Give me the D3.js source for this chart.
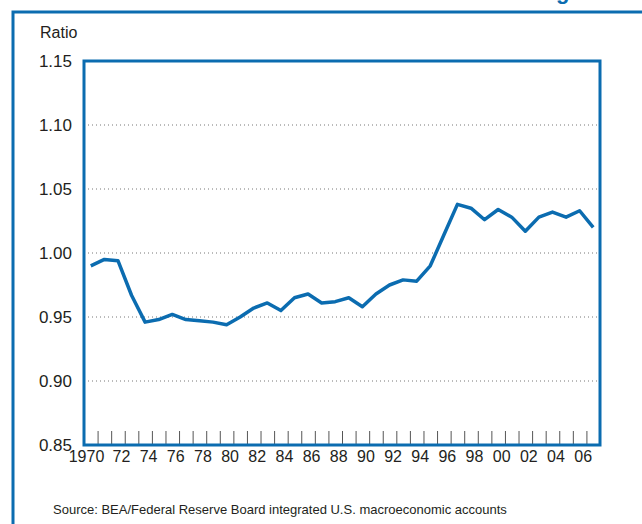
<!DOCTYPE html>
<html>
<head>
<meta charset="utf-8">
<script src="https://cdn.jsdelivr.net/npm/d3@7"></script>
<style>
  body { margin: 0; background: #fff; }
  text { font-family: "Liberation Sans", Arial, sans-serif; fill: #231f20; }
</style>
</head>
<body>
<script>
// chart data
const years = d3.range(1970, 2008);
const ratio = [0.990, 0.995, 0.994, 0.967, 0.946, 0.948, 0.952, 0.948, 0.947, 0.946,
  0.944, 0.950, 0.957, 0.961, 0.955, 0.965, 0.968, 0.961, 0.962, 0.965,
  0.958, 0.968, 0.975, 0.979, 0.978, 0.990, 1.014, 1.038, 1.035, 1.026,
  1.034, 1.028, 1.017, 1.028, 1.032, 1.028, 1.033, 1.020];
const yTicks = [0.85, 0.90, 0.95, 1.00, 1.05, 1.10, 1.15];
const xLabelYears = d3.range(1970, 2008, 2);

const w = 642;
const h = 524;
const blue = "#0b6cb0";

const svg = d3.select("body")
  .append("svg")
  .attr("width", w)
  .attr("height", h);

// outer panel frame, runs off the right and bottom edge
svg.append("rect")
  .attr("x", 13)
  .attr("y", 12)
  .attr("width", 700)
  .attr("height", 600)
  .attr("fill", "none")
  .attr("stroke", blue)
  .attr("stroke-width", 3);

// bit of the title that is cut off at the top (as in the original)
svg.append("text")
  .attr("x", 556)
  .attr("y", -1)
  .style("font-size", "22px")
  .style("font-weight", "bold")
  .style("fill", blue)
  .text("g");

const pLeft = 84, pRight = 600, pTop = 61, pBottom = 445;

const x = d3.scaleLinear()
  .domain([1970, 2008]) // each year is one slot, point in the middle
  .range([pLeft, pRight]);
const y = d3.scaleLinear()
  .domain([0.85, 1.15])
  .range([pBottom, pTop]);

// dotted grid
svg.selectAll(".grid")
  .data(yTicks.slice(1, -1))
  .enter()
  .append("line")
  .attr("class", "grid")
  .attr("x1", pLeft)
  .attr("x2", pRight)
  .attr("y1", d => y(d))
  .attr("y2", d => y(d))
  .attr("stroke", "#777")
  .attr("stroke-width", 1)
  .attr("stroke-dasharray", "1,3");

// y axis labels
const yAxis = d3.axisLeft(y)
  .tickValues(yTicks)
  .tickFormat(d3.format(".2f"))
  .tickSize(0)
  .tickPadding(12);
svg.append("g")
  .attr("transform", `translate(${pLeft},0)`)
  .call(yAxis)
  .call(g => g.select(".domain").remove())
  .selectAll("text")
  .style("font-size", "17px")
  .style("font-family", "Liberation Sans, Arial, sans-serif")
  .attr("fill", "#231f20");

// year tick marks between slots
const xTicks = d3.axisBottom(x)
  .tickValues(d3.range(1971, 2008))
  .tickSize(-14)
  .tickFormat("");
svg.append("g")
  .attr("transform", `translate(0,${pBottom})`)
  .call(xTicks)
  .call(g => g.select(".domain").remove())
  .selectAll("line")
  .attr("stroke", "#555");

// year labels, centered under the slot
const xAxis = d3.axisBottom(x)
  .tickValues(xLabelYears.map(d => d + 0.5))
  .tickSize(0)
  .tickPadding(6)
  .tickFormat(d => {
    const yr = Math.floor(d);
    return yr === 1970 ? "1970" : String(yr % 100).padStart(2, "0");
  });
const xg = svg.append("g")
  .attr("transform", `translate(0,${pBottom})`)
  .call(xAxis)
  .call(g => g.select(".domain").remove());
xg.selectAll("text")
  .style("font-size", "16px")
  .style("font-family", "Liberation Sans, Arial, sans-serif")
  .attr("fill", "#231f20")
  .attr("dx", (d, i) => i === 0 ? 0 : 3);
// 1970 hangs to the left so it doesn't bump into 72
xg.select(".tick text")
  .attr("text-anchor", "end")
  .attr("dx", 13);

// the series
const line = d3.line()
  .x((d, i) => x(years[i] + 0.5))
  .y(d => y(d));
svg.append("path")
  .datum(ratio)
  .attr("d", line)
  .attr("fill", "none")
  .attr("stroke", blue)
  .attr("stroke-width", 3.5)
  .attr("stroke-linejoin", "round");

// plot frame on top
svg.append("rect")
  .attr("x", pLeft)
  .attr("y", pTop)
  .attr("width", pRight - pLeft)
  .attr("height", pBottom - pTop)
  .attr("fill", "none")
  .attr("stroke", blue)
  .attr("stroke-width", 3);

svg.append("text")
  .attr("x", 40)
  .attr("y", 38)
  .style("font-size", "16px")
  .text("Ratio");

svg.append("text")
  .attr("x", 53)
  .attr("y", 514)
  .style("font-size", "13px")
  .text("Source: BEA/Federal Reserve Board integrated U.S. macroeconomic accounts");
</script>
</body>
</html>
